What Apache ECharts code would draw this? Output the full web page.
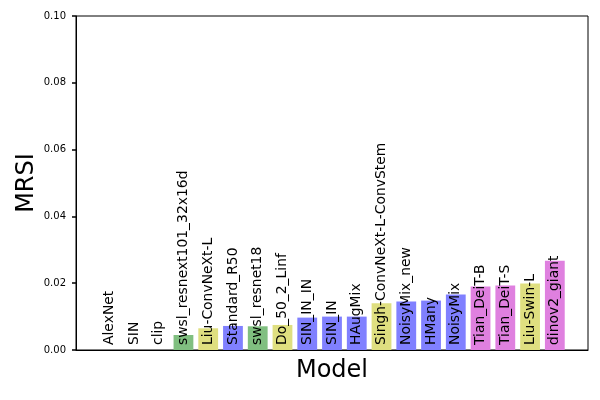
<!DOCTYPE html>
<html>
<head>
<meta charset="utf-8">
<script src="https://cdn.jsdelivr.net/npm/echarts@6/dist/echarts.min.js"></script>
<style>html,body{margin:0;padding:0;background:#fff;}#c{width:600px;height:400px;}</style>
</head>
<body>
<div id="c"></div>
<script>
const categories = ["AlexNet","SIN","clip","swsl_resnext101_32x16d","Liu-ConvNeXt-L","Standard_R50","swsl_resnet18","Do_50_2_Linf","SIN_IN_IN","SIN_IN","HAugMix","Singh-ConvNeXt-L-ConvStem","NoisyMix_new","HMany","NoisyMix","Tian_DeiT-B","Tian_DeiT-S","Liu-Swin-L","dinov2_giant"];
const values = [0,0,0,0.0045,0.0065,0.0072,0.0071,0.0075,0.0097,0.0100,0.0100,0.0140,0.0145,0.0148,0.0166,0.0190,0.0193,0.0199,0.0267];
const groups = ["b","b","b","g","y","b","g","y","b","b","b","y","b","b","b","m","m","y","m"];
const yTicks = [0,0.02,0.04,0.06,0.08,0.10];

const colorMap = {g:"#80bf80", b:"#8080ff", y:"#dfdf80", m:"#df80df"};
const n = categories.length;
const xMin = -0.4 - 0.05*(n-0.2), xMax = (n-1)+0.4 + 0.05*(n-0.2);
const gridLeft = 76, gridRight = 12, gridTop = 16, gridBottom = 50;
const plotW = 600 - gridLeft - gridRight;
const barW = 0.8 * plotW / (xMax - xMin);
const font = "DejaVu Sans";

const chart = echarts.init(document.getElementById('c'), null, {renderer:'canvas'});
chart.setOption({
  animation: false,
  textStyle: {fontFamily: font},
  grid: {left: gridLeft, right: gridRight, top: gridTop, bottom: gridBottom, show: true, borderColor: '#000', borderWidth: 1},
  xAxis: {
    type: 'value', min: xMin, max: xMax,
    name: 'Model', nameLocation: 'middle', nameGap: 9, nameMoveOverlap: false,
    nameTextStyle: {fontSize: 24, color: '#000', fontFamily: font, verticalAlign: 'top'},
    axisLine: {show: true, onZero: false, lineStyle: {color: '#000', width: 1}},
    axisTick: {show: false}, axisLabel: {show: false}, splitLine: {show: false}
  },
  yAxis: {
    type: 'value', min: yTicks[0], max: yTicks[yTicks.length-1], interval: 0.02,
    name: 'MRSI', nameLocation: 'middle', nameGap: 37, nameMoveOverlap: false,
    nameTextStyle: {fontSize: 24, color: '#000', fontFamily: font},
    axisLine: {show: true, onZero: false, lineStyle: {color: '#000', width: 1}},
    axisTick: {show: true, inside: false, length: 4, lineStyle: {color: '#000', width: 1.5}},
    axisLabel: {fontSize: 10, color: '#000', margin: 10, fontFamily: font, formatter: v => v.toFixed(2)},
    splitLine: {show: false}
  },
  series: [{
    type: 'bar',
    barWidth: barW,
    data: values.map((v, i) => ({value: [i, v], itemStyle: {color: colorMap[groups[i]]}})),
    label: {
      show: true, position: 'insideBottom', rotate: 90, align: 'left', verticalAlign: 'middle',
      distance: 5, fontSize: 13.9, color: '#000', fontFamily: font,
      formatter: p => categories[p.dataIndex]
    }
  }]
});
</script>
</body>
</html>
